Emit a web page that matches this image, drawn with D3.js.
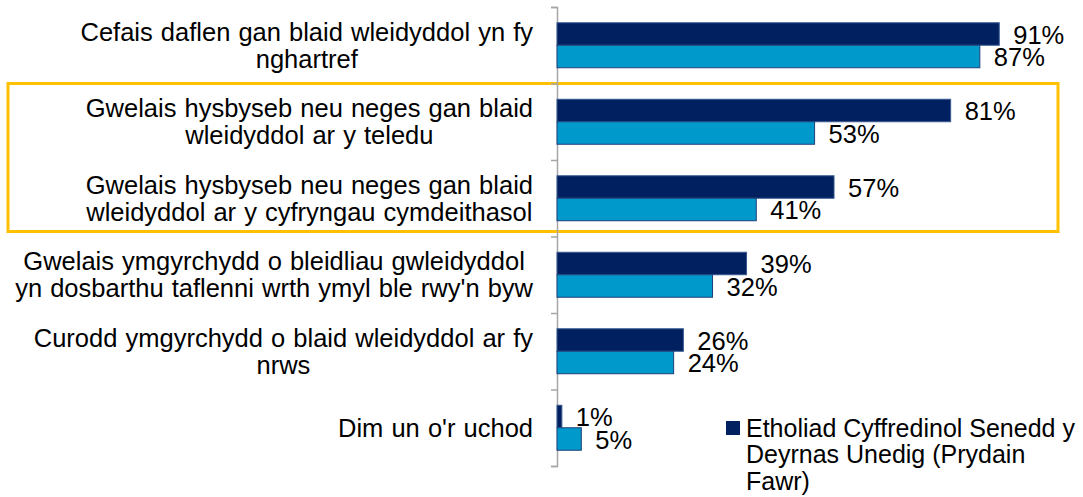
<!DOCTYPE html>
<meta charset="utf-8">
<style>
body { margin: 0; background: #fff; }
text { font-family: "Liberation Sans", Arial, sans-serif; fill: #000; }
.axis path, .axis line { stroke: #a6a6a6; stroke-width: 1.5px; }
</style>
<svg width="1083" height="497"></svg>
<script src="https://cdn.jsdelivr.net/npm/d3@7"></script>
<script>

// categories (line breaks as in the original)
var categories = [
  "Cefais daflen gan blaid wleidyddol yn fy\nnghartref",
  "Gwelais hysbyseb neu neges gan blaid\nwleidyddol ar y teledu",
  "Gwelais hysbyseb neu neges gan blaid\nwleidyddol ar y cyfryngau cymdeithasol",
  "Gwelais ymgyrchydd o bleidliau gwleidyddol\nyn dosbarthu taflenni wrth ymyl ble rwy'n byw",
  "Curodd ymgyrchydd o blaid wleidyddol ar fy\nnrws",
  "Dim un o'r uchod"
];
var seriesA = [91, 81, 57, 39, 26, 1];   // dark
var seriesB = [87, 53, 41, 32, 24, 5];   // light
var legendLines = ["Etholiad Cyffredinol Senedd y", "Deyrnas Unedig (Prydain", "Fawr)"];

var svg = d3.select("svg");
var axisX = 557, plotTop = 7, plotBottom = 466;

var xScale = d3.scaleLinear().domain([0, 100]).range([axisX, axisX + 486]);
var yBand = d3.scaleBand().domain(d3.range(categories.length)).range([plotTop, plotBottom])
    .paddingInner(0.412).paddingOuter(0.206);
var ySub = d3.scaleBand().domain([0, 1]).range([0, yBand.bandwidth()]);
var yEdge = d3.scaleLinear().domain([0, categories.length]).range([plotTop, plotBottom]);

// highlight box round the 2nd and 3rd categories
svg.append("rect")
    .attr("x", 8).attr("y", yEdge(1))
    .attr("width", 1050).attr("height", yEdge(3) - yEdge(1) - 5)
    .attr("fill", "none").attr("stroke", "#ffc000").attr("stroke-width", 3);

// axis with ticks at category boundaries
svg.append("g")
    .attr("class", "axis")
    .attr("transform", "translate(" + axisX + ",0)")
    .call(d3.axisLeft(yEdge).tickValues(d3.range(categories.length + 1)).tickSize(6).tickSizeOuter(6).tickFormat(""));

var colors = ["#002060", "#0099cc"];
var strokes = ["#3a5a94", "#1f3f7a"];
var rows = categories.map(function(c, i) { return [seriesA[i], seriesB[i]]; });

var grp = svg.selectAll(".cat")
  .data(rows)
  .enter().append("g")
    .attr("class", "cat")
    .attr("transform", function(d, i) { return "translate(0," + yBand(i) + ")"; });

grp.selectAll("rect")
  .data(function(d) { return d; })
  .enter().append("rect")
    .attr("x", xScale(0))
    .attr("y", function(d, j) { return ySub(j); })
    .attr("width", function(d) { return xScale(d) - xScale(0); })
    .attr("height", ySub.bandwidth())
    .attr("fill", function(d, j) { return colors[j]; })
    .attr("stroke", function(d, j) { return strokes[j]; })
    .attr("stroke-width", 1);

grp.selectAll(".val")
  .data(function(d) { return d; })
  .enter().append("text")
    .attr("class", "val")
    .attr("x", function(d) { return xScale(d) + 14; })
    .attr("y", function(d, j) { return ySub(j) + ySub.bandwidth() / 2 + 1; })
    .attr("dy", "0.35em")
    .style("font-size", "25.5px")
    .text(function(d) { return d + "%"; });

// category labels: block right-aligned, lines centred within the block
var lineH = 27;
categories.forEach(function(c, i) {
  var lines = c.split("\n");
  var cy = yBand(i) + yBand.bandwidth() / 2;
  var t = svg.append("text")
      .attr("text-anchor", "middle")
      .style("font-size", "25.5px")
      .style("word-spacing", "1px");
  var spans = lines.map(function(l, k) {
    return t.append("tspan")
        .attr("y", cy + (k - (lines.length - 1) / 2) * lineH)
        .attr("dy", "0.35em")
        .text(l);
  });
  var w = d3.max(spans, function(s) { return s.node().getComputedTextLength(); });
  spans.forEach(function(s) { s.attr("x", 533 - w / 2); });
});

// legend (only the first series is visible)
var lg = svg.append("g").attr("transform", "translate(726,428)");
lg.append("rect").attr("x", 0).attr("y", -7).attr("width", 14).attr("height", 14)
    .attr("fill", colors[0]);
lg.append("text")
    .style("font-size", "25px")
  .selectAll("tspan")
  .data(legendLines)
  .enter().append("tspan")
    .attr("x", 20)
    .attr("y", function(d, k) { return k * 26.5; })
    .attr("dy", "0.35em")
    .text(function(d) { return d; });

</script>
